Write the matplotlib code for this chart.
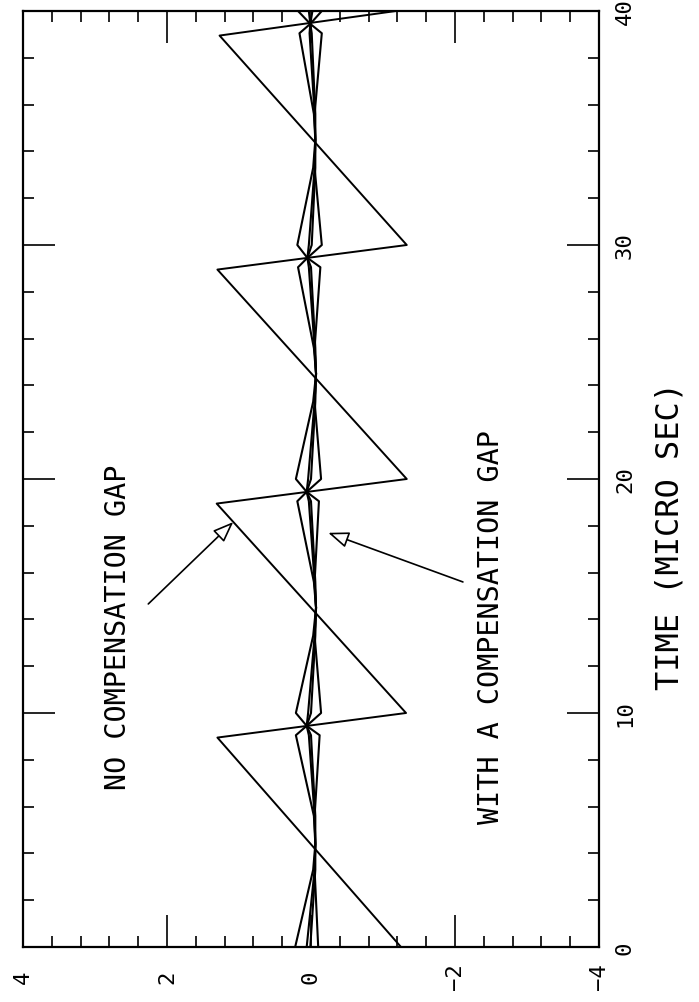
import matplotlib
matplotlib.use("Agg")
import matplotlib.pyplot as plt
from matplotlib.ticker import MultipleLocator

# the page is scanned sideways: time runs bottom -> top, value runs right -> left
FONT = "DejaVu Sans Mono"

# ---- uncompensated voltage (sawtooth)
saw_t = [0.0, 8.95, 10.0, 18.95, 20.0, 28.95, 30.0, 38.95, 40.0]
saw_v = [-1.25, 1.30, -1.32, 1.31, -1.33, 1.30, -1.33, 1.27, -1.18]

# ---- compensated voltages (small lens shaped bundle around zero)
gap_t = [0.0, 3.3, 4.4, 5.6, 9.05, 9.45,
         10.0, 13.3, 14.5, 15.6, 19.05, 19.45,
         20.0, 23.3, 24.5, 25.6, 29.05, 29.45,
         30.0, 33.3, 34.5, 35.6, 39.05, 39.45, 40.0]
gap_a = [0.22, -0.03, -0.06, -0.04, 0.21, 0.06,
         0.21, -0.03, -0.07, -0.04, 0.19, 0.06,
         0.21, -0.03, -0.07, -0.04, 0.18, 0.05,
         0.19, -0.03, -0.06, -0.04, 0.16, 0.01, 0.18]
gap_b = [0.06, -0.05, -0.06, -0.05, 0.03, 0.06,
         0.04, -0.05, -0.07, -0.05, 0.03, 0.06,
         0.04, -0.05, -0.07, -0.05, 0.03, 0.05,
         0.03, -0.05, -0.06, -0.05, 0.02, 0.01, 0.03]
gap_d = [0.01, -0.06, -0.06, -0.06, 0.0, 0.06,
         0.0, -0.06, -0.07, -0.06, 0.0, 0.06,
         0.0, -0.06, -0.07, -0.06, 0.0, 0.05,
         -0.01, -0.06, -0.06, -0.06, -0.01, 0.01, -0.02]
gap_c = [-0.10, -0.05, -0.06, -0.05, -0.12, 0.06,
         -0.14, -0.05, -0.07, -0.05, -0.11, 0.06,
         -0.14, -0.05, -0.07, -0.05, -0.13, 0.05,
         -0.15, -0.05, -0.06, -0.05, -0.15, 0.01, -0.15]

val_ticks = [4, 2, 0, -2, -4]
val_labels = ["4", "2", "0", "\u22122", "\u22124"]
time_ticks = [0, 10, 20, 30, 40]
time_labels = ["0", "10", "20", "30", "40"]

fig = plt.figure(figsize=(6.99, 10.03), dpi=100)
ax = fig.add_axes([23/699, 55/1003, 576/699, 936/1003])

ax.plot(saw_v, saw_t, color="k", lw=1.4)
for g in (gap_a, gap_b, gap_d, gap_c):
    ax.plot(g, gap_t, color="k", lw=1.5)

ax.set_xlim(4, -4)
ax.set_ylim(0, 40)

ax.xaxis.set_major_locator(MultipleLocator(2))
ax.xaxis.set_minor_locator(MultipleLocator(0.4))
ax.yaxis.set_major_locator(MultipleLocator(10))
ax.yaxis.set_minor_locator(MultipleLocator(2))
ax.tick_params(which="both", direction="in", top=True, right=True,
               labelbottom=False, labelleft=False, width=1.2, color="k")
ax.tick_params(which="major", length=23)
ax.tick_params(which="minor", length=8)
for s in ax.spines.values():
    s.set_linewidth(1.6)

# tick labels, rotated like the page
for v, s in zip(val_ticks, val_labels):
    ax.text(v, -0.031, s, transform=ax.get_xaxis_transform(), rotation=90,
            ha="center", va="center", fontsize=16, family=FONT)
for t, s in zip(time_ticks, time_labels):
    ax.text(1.045, t, s, transform=ax.get_yaxis_transform(), rotation=90,
            ha="center", va="center", fontsize=16, family=FONT)

ax.text(1.123, 0.44, "TIME (MICRO SEC)", transform=ax.transAxes, rotation=90,
        ha="center", va="center", fontsize=23, family=FONT)

ax.text(2.68, 13.7, "NO COMPENSATION GAP", rotation=90, ha="center",
        va="center", fontsize=20.5, family=FONT)
ax.text(-2.5, 13.7, "WITH A COMPENSATION GAP", rotation=90, ha="center",
        va="center", fontsize=20.5, family=FONT)

arrow = dict(arrowstyle="-|>,head_length=0.9,head_width=0.35", fc="white",
             ec="k", lw=1.2, shrinkA=0, shrinkB=0, mutation_scale=14)
ax.annotate("", xy=(1.08, 18.16), xytext=(2.26, 14.66), arrowprops=arrow)
ax.annotate("", xy=(-0.24, 17.7), xytext=(-2.11, 15.6), arrowprops=arrow)

fig.savefig("out.png", dpi=100, facecolor="white")
